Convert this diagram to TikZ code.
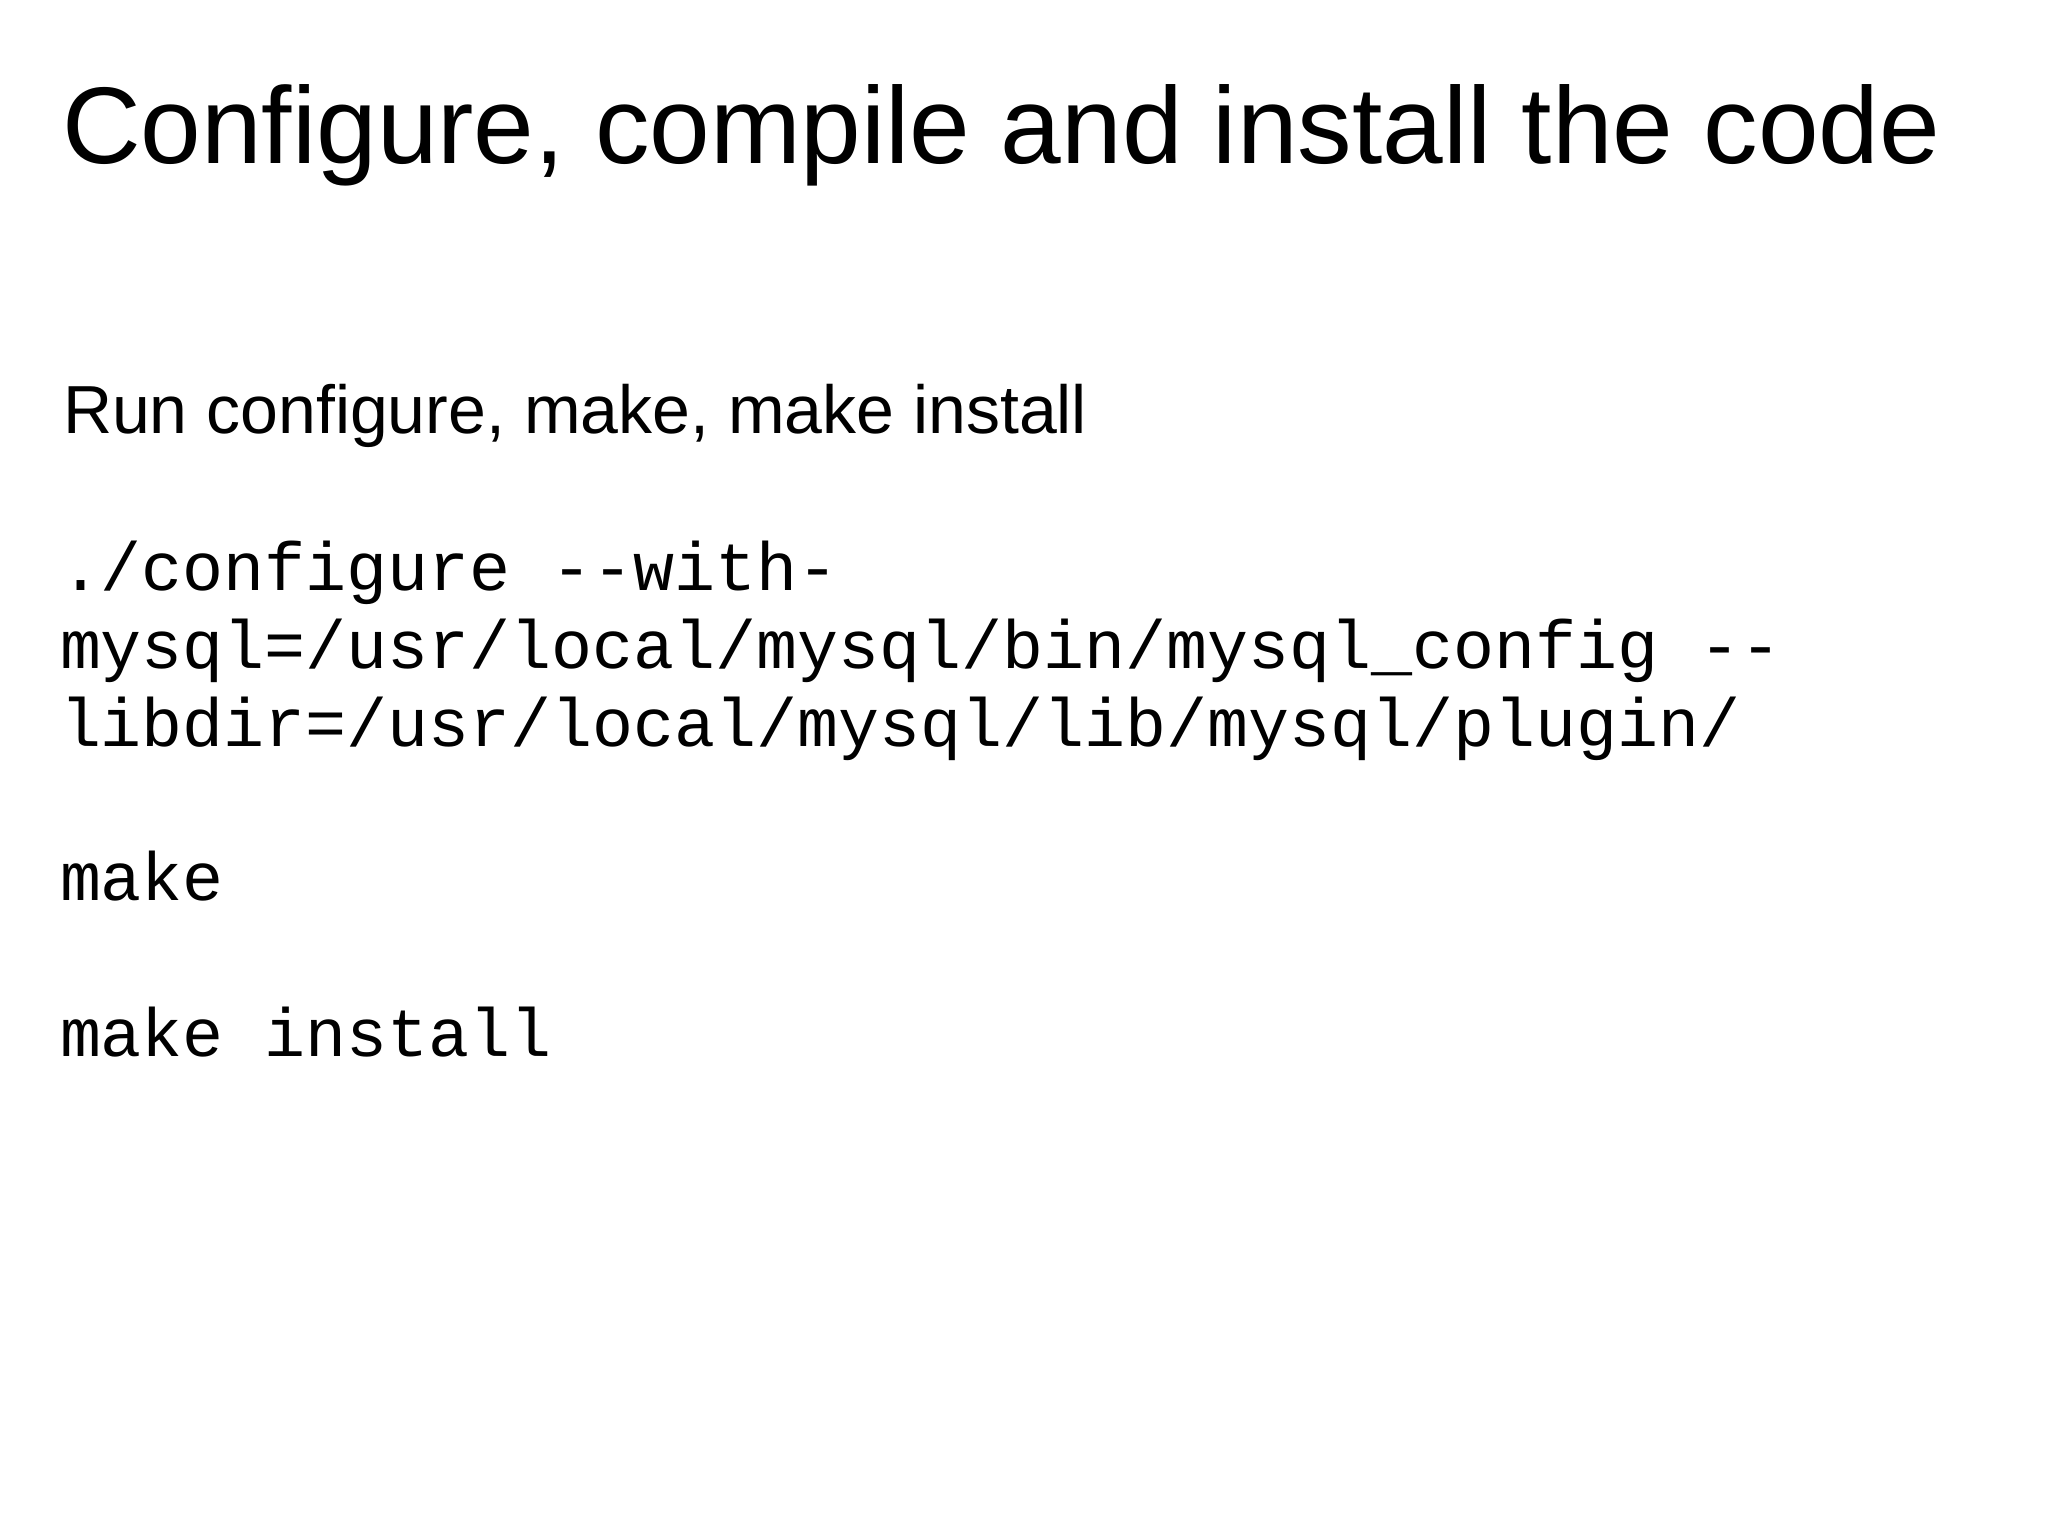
\documentclass[tikz,border=0pt]{standalone}
\usepackage{fontspec}
\setmainfont{Liberation Sans}
\newfontfamily\codefont{Liberation Mono}
\begin{document}
\begin{tikzpicture}[x=1pt,y=-1pt,
  txt/.style={anchor=base west,inner sep=0pt,outer sep=0pt},
  code/.style={txt,font=\codefont\fontsize{68.3}{78}\selectfont}]
\useasboundingbox[fill=white] (0,0) rectangle (2048,1536);
\node[txt,font=\fontsize{109}{124}\selectfont] (title) at (62,164) {Configure, compile and install the code};
\node[txt,font=\fontsize{68}{78}\selectfont] (sub) at (63,433) {Run configure, make, make install};
\node[code] (c1) at (60,590) {./configure --with-};
\node[code] (c2) at (60,668) {mysql=/usr/local/mysql/bin/mysql\_config --};
\node[code] (c3) at (60,746) {libdir=/usr/local/mysql/lib/mysql/plugin/};
\node[code] (c4) at (60,900) {make};
\node[code] (c5) at (60,1056) {make install};
\end{tikzpicture}
\end{document}
